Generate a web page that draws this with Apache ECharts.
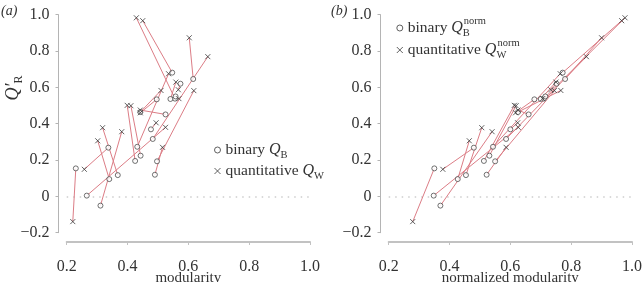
<!DOCTYPE html>
<html>
<head>
<meta charset="utf-8">
<script src="https://cdn.jsdelivr.net/npm/echarts@6/dist/echarts.min.js"></script>
<style>
  html, body { margin: 0; padding: 0; background: #fff; }
  #chart { width: 642px; height: 282px; }
</style>
</head>
<body>
<div id="chart"></div>
<script>
// one entry per network: binary / quantitative modularity and realized modularity Q'R
const binaryQ      = [0.23, 0.337, 0.34, 0.368, 0.311, 0.266, 0.432, 0.556, 0.547, 0.616, 0.483, 0.49, 0.497, 0.425, 0.443, 0.477, 0.442, 0.525, 0.496, 0.541, 0.574, 0.558];
const binaryQR     = [0.154, 0.268, 0.095, 0.117, -0.051, 0.004, 0.273, 0.538, 0.681, 0.646, 0.316, 0.119, 0.193, 0.195, 0.224, 0.369, 0.464, 0.451, 0.534, 0.536, 0.62, 0.55];
const quantQ       = [0.22, 0.258, 0.302, 0.318, 0.381, 0.525, 0.535, 0.429, 0.45, 0.603, 0.664, 0.515, 0.618, 0.399, 0.411, 0.494, 0.51, 0.442, 0.442, 0.559, 0.567, 0.569];
const quantQR      = [-0.139, 0.149, 0.306, 0.378, 0.356, 0.38, 0.675, 0.983, 0.967, 0.873, 0.769, 0.27, 0.582, 0.501, 0.499, 0.405, 0.583, 0.475, 0.46, 0.629, 0.587, 0.538];
// normalized modularity (panel b)
const binaryQNorm  = [0.35, 0.48, 0.427, 0.454, 0.37, 0.348, 0.543, 0.71, 0.772, 0.78, 0.586, 0.522, 0.55, 0.513, 0.531, 0.60, 0.625, 0.66, 0.679, 0.70, 0.752, 0.715];
const quantQNorm   = [0.279, 0.378, 0.465, 0.506, 0.54, 0.626, 0.764, 0.977, 0.966, 0.90, 0.85, 0.586, 0.745, 0.613, 0.619, 0.624, 0.766, 0.625, 0.617, 0.75, 0.733, 0.706];

const xTicks = [0.2, 0.4, 0.6, 0.8, 1.0];
const yTicks = [-0.2, 0, 0.2, 0.4, 0.6, 0.8, 1.0];

const FONT = 'Liberation Serif';
const INK = '#333';
const AXIS = '#b4b4b4';
const LINK = '#dc7d86';
const MARK = '#3a3a3a';
const CROSS = 'path://M0 0L10 10M10 0L0 10';

const chart = echarts.init(document.getElementById('chart'), null, { renderer: 'canvas' });

const fmtY = v => v === 0 ? '0' : (v < 0 ? '−' + Math.abs(v).toFixed(1) : v.toFixed(1));

const grids = [
  { left: 66.7, top: 14.7, width: 243.3, height: 218, outerBoundsMode: 'none', containLabel: false },
  { left: 388.7, top: 14.7, width: 243.3, height: 218, outerBoundsMode: 'none', containLabel: false }
];

const xNames = ['modularity', 'normalized modularity'];

// detached axes (R style): pushed away from the plotting area with offset
const xAxes = grids.map((g, i) => ({
  type: 'value', gridIndex: i, position: 'bottom',
  min: xTicks[0], max: xTicks[xTicks.length - 1], interval: 0.2,
  offset: 9.3,
  name: xNames[i], nameLocation: 'middle', nameGap: 28.5, nameMoveOverlap: false,
  nameTextStyle: { fontFamily: FONT, fontSize: 15, color: INK },
  axisLine: { show: true, onZero: false, lineStyle: { color: '#c2c2c2', width: 2 } },
  axisTick: { show: true, length: 3, lineStyle: { color: '#c2c2c2', width: 1 } },
  axisLabel: { fontFamily: FONT, fontSize: 16, color: INK, margin: 17, formatter: v => v.toFixed(1) },
  splitLine: { show: false }
}));

const yAxes = grids.map((g, i) => ({
  type: 'value', gridIndex: i, position: 'left',
  min: yTicks[0], max: yTicks[yTicks.length - 1], interval: 0.2,
  offset: 8.2,
  axisLine: { show: true, onZero: false, lineStyle: { color: AXIS, width: 1 } },
  axisTick: { show: true, length: 3, lineStyle: { color: AXIS, width: 1 } },
  axisLabel: { fontFamily: FONT, fontSize: 16, color: INK, margin: 9, formatter: fmtY },
  splitLine: { show: false }
}));

function pairs(bx, by, qx, qy) {
  return bx.map((x, k) => ({ coords: [[x, by[k]], [qx[k], qy[k]]] }));
}

function panelSeries(i, bx, qx) {
  const tag = i === 0 ? 'a' : 'b';
  return [
    {
      type: 'lines', coordinateSystem: 'cartesian2d', xAxisIndex: i, yAxisIndex: i,
      data: pairs(bx, binaryQR, qx, quantQR),
      lineStyle: { color: LINK, width: 1, opacity: 1 },
      silent: true, z: 2
    },
    {
      name: 'binary ' + tag, type: 'scatter', xAxisIndex: i, yAxisIndex: i,
      data: bx.map((x, k) => [x, binaryQR[k]]),
      symbol: 'circle', symbolSize: 5,
      itemStyle: { color: '#fff', borderColor: MARK, borderWidth: 0.9 },
      z: 3,
      markLine: {
        silent: true, symbol: 'none', label: { show: false }, z: 1,
        lineStyle: { color: '#cdcdcd', type: [1.5, 5], width: 1.6 },
        data: [{ yAxis: 0 }]
      }
    },
    {
      name: 'quant ' + tag, type: 'scatter', xAxisIndex: i, yAxisIndex: i,
      data: qx.map((x, k) => [x, quantQR[k]]),
      symbol: CROSS, symbolSize: 5,
      itemStyle: { color: 'rgba(0,0,0,0)', borderColor: MARK, borderWidth: 1 },
      z: 3
    }
  ];
}

const rich = {
  t: { fontFamily: FONT, fontSize: 15.5, color: INK, lineHeight: 18 },
  q: { fontFamily: FONT, fontSize: 16, fontStyle: 'italic', color: INK, lineHeight: 18 },
  sub: { fontFamily: FONT, fontSize: 10.5, color: INK, lineHeight: 2, padding: [10, 0, 0, 0] },
  subw: { fontFamily: FONT, fontSize: 10.5, color: INK, lineHeight: 2, padding: [10, 0, 0, 0], width: 1 },
  sup: { fontFamily: FONT, fontSize: 10.5, color: INK, lineHeight: 2, padding: [0, 0, 13, 0] }
};

const legendText = {
  'binary a': '{t|binary }{q|Q}{sub|B}',
  'quant a': '{t|quantitative }{q|Q}{sub|W}',
  'binary b': '{t|binary }{q|Q}{subw|B}{sup|norm}',
  'quant b': '{t|quantitative }{q|Q}{subw|W}{sup|norm}'
};

function legend(names, left, top, gap) {
  return {
    orient: 'vertical', left: left, top: top, padding: 0,
    itemWidth: 6, itemHeight: 6, itemGap: gap,
    data: names, selectedMode: false,
    itemStyle: { borderWidth: 1 },
    formatter: n => legendText[n],
    textStyle: { fontFamily: FONT, fontSize: 15.5, color: INK, rich: rich }
  };
}

chart.setOption({
  animation: false,
  backgroundColor: '#fff',
  grid: grids,
  xAxis: xAxes,
  yAxis: yAxes,
  legend: [
    legend(['binary a', 'quant a'], 214, 139.5, 0),
    legend(['binary b', 'quant b'], 396.3, 16, -2)
  ],
  graphic: [
    { type: 'text', left: 1, top: 4, style: { text: '(a)', fontFamily: FONT, fontSize: 14, fontStyle: 'italic', fill: INK } },
    { type: 'text', left: 331, top: 4, style: { text: '(b)', fontFamily: FONT, fontSize: 14, fontStyle: 'italic', fill: INK } },
    {
      type: 'text', x: 13, y: 88, rotation: Math.PI / 2,
      style: {
        text: '{q|Q′}{r|R}', align: 'center', verticalAlign: 'middle',
        rich: {
          q: { fontFamily: FONT, fontSize: 18, fontStyle: 'italic', fill: INK, lineHeight: 20 },
          r: { fontFamily: FONT, fontSize: 12, fill: INK, lineHeight: 2, padding: [11, 0, 0, 0] }
        }
      }
    }
  ],
  series: [
    ...panelSeries(0, binaryQ, quantQ),
    ...panelSeries(1, binaryQNorm, quantQNorm)
  ]
});
</script>
</body>
</html>
